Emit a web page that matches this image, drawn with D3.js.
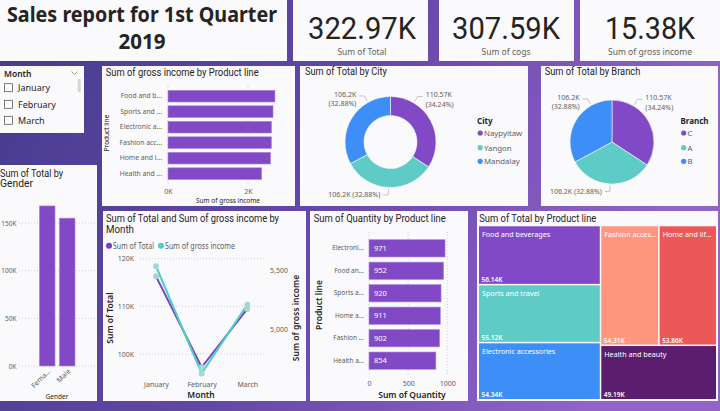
<!DOCTYPE html>
<html><head><meta charset="utf-8">
<script src="https://cdn.jsdelivr.net/npm/d3@7"></script>
<style>html,body{margin:0;padding:0;overflow:hidden;background:#5a479f}</style>
</head><body><svg id="c" width="720" height="411"></svg>
<script>
// ---------- DATA ----------
const kpiLabels = ["Sum of Total", "Sum of cogs", "Sum of gross income"];
const kpiValues = [322966.75, 307587.38, 15379.37];
const months = ["January", "February", "March"];
const productLines = ["Food and beverages", "Sports and travel", "Electronic accessories", "Fashion accessories", "Home and lifestyle", "Health and beauty"];
const grossIncome = [2673.56, 2624.90, 2587.50, 2585.99, 2564.85, 2342.56];
const grossTickLabels = ["Food and b...", "Sports and ...", "Electronic a...", "Fashion acc...", "Home and l...", "Health and ..."];
const grossTicks = [0, 2000];
const cities = ["Naypyitaw", "Yangon", "Mandalay"];
const cityTotals = [110568.71, 106200.37, 106197.67];
const branches = ["C", "A", "B"];
const branchTotals = [110568.71, 106200.37, 106197.67];
const genders = ["Female", "Male"];
const genderTotals = [167882.93, 155083.82];
const genderTickLabels = ["Fema...", "Male"];
const genderTicks = [0, 50000, 100000, 150000];
const monthTotals = [116291.87, 97219.37, 109455.51];
const monthGross = [5537.71, 4629.49, 5212.17];
const monthTotalTicks = [100000, 110000, 120000];
const monthGrossTicks = [5000, 5500];
const qtyLines = ["Electronic accessories", "Food and beverages", "Sports and travel", "Home and lifestyle", "Fashion accessories", "Health and beauty"];
const qtyValues = [971, 952, 920, 911, 902, 854];
const qtyTickLabels = ["Electroni...", "Food an...", "Sports a...", "Home a...", "Fashion ...", "Health a..."];
const qtyTicks = [0, 500, 1000];
const treeLines = ["Food and beverages", "Sports and travel", "Electronic accessories", "Fashion accessories", "Home and lifestyle", "Health and beauty"];
const treeTotals = [56144.84, 55122.83, 54337.53, 54305.90, 53861.91, 49193.74];
const treeLabels = ["Food and beverages", "Sports and travel", "Electronic accessories", "Fashion acces...", "Home and lif...", "Health and beauty"];

// ---------- STYLE ----------
const PAL = ["#8249C6", "#5ECBC6", "#3E8EF7", "#FF9680", "#EC5757", "#5B1D6D"];
const F = "'Segoe UI','Noto Sans',sans-serif";
const DIN = "Roboto,'Noto Sans',sans-serif";
const GREY = "#605E5C", DARK = "#252423", PANEL = "#FAF9FC", GRID = "#C8C6C4";

const svg = d3.select("#c");
const defs = svg.append("defs");
const lg = defs.append("linearGradient").attr("id", "bg").attr("x1", "0").attr("y1", "0").attr("x2", "1").attr("y2", "0.25");
lg.append("stop").attr("offset", "0").attr("stop-color", "#453c8d");
lg.append("stop").attr("offset", "0.5").attr("stop-color", "#6347a6");
lg.append("stop").attr("offset", "1").attr("stop-color", "#9263c9");
svg.append("rect").attr("width", 720).attr("height", 411).attr("fill", "url(#bg)");

function T(g, x, y, s, o = {}) {
  const t = g.append("text").attr("x", x).attr("y", y).text(s)
    .attr("font-family", o.f || F).attr("font-size", o.s || 8)
    .attr("font-weight", o.w || 400).attr("fill", o.c || GREY)
    .attr("text-anchor", o.a || "start");
  if (o.r) t.attr("transform", `rotate(${o.r},${x},${y})`);
  if (o.fit) t.attr("textLength", o.fit).attr("lengthAdjust", "spacingAndGlyphs");
  return t;
}
function panel(x, y, w, h) {
  svg.append("rect").attr("x", x).attr("y", y).attr("width", w).attr("height", h).attr("fill", PANEL);
}
function styleAxis(g, size, color) {
  g.select(".domain").remove();
  g.selectAll(".tick line").remove();
  g.attr("font-family", F).attr("font-size", size);
  g.selectAll("text").attr("fill", color || GREY);
}
function dotted(x1, y1, x2, y2) {
  svg.append("line").attr("x1", x1).attr("y1", y1).attr("x2", x2).attr("y2", y2)
    .attr("stroke", GRID).attr("stroke-width", 0.8).attr("stroke-dasharray", "1,2");
}
const fmtK = v => d3.format(".5~s")(v).replace("k", "K");
const fmtP = d3.format(".2%");

// ---------- PANELS ----------
panel(0, 0, 287, 61);
panel(293, 0, 135, 61);
panel(439, 0, 135, 61);
panel(580, 0, 140, 61);
panel(0, 66, 84, 67);
panel(102, 66, 193, 140);
panel(300, 66, 228, 140);
panel(541, 66, 177, 140);
panel(0, 165, 97, 236);
panel(103, 211, 203, 190);
panel(310, 211, 158, 190);
panel(477, 211, 241, 190);

// ---------- TITLE ----------
T(svg, 142, 21.5, "Sales report for 1st Quarter", { s: 21, w: 700, c: "#252423", a: "middle", fit: 270 });
T(svg, 142, 49, "2019", { s: 21, w: 700, c: "#252423", a: "middle", fit: 47 });

// ---------- KPIs ----------
const kpiCx = [362, 506, 650];
const kpiW = [108, 108, 90];
const kpiSubW = [49, 49, 84];
kpiValues.forEach((v, i) => {
  T(svg, kpiCx[i], 39, d3.format(".2f")(v / 1000) + "K", { f: DIN, s: 31, c: "#252423", a: "middle", fit: kpiW[i] });
  T(svg, kpiCx[i], 55, kpiLabels[i], { s: 8.5, c: GREY, a: "middle", fit: kpiSubW[i] });
});

// ---------- SLICER ----------
T(svg, 4, 77, "Month", { s: 8.5, w: 600, c: DARK });
svg.append("path").attr("d", "M71.5,71.5 L74.5,74.5 L77.5,71.5").attr("fill", "none").attr("stroke", "#8a8886").attr("stroke-width", 0.8);
svg.append("rect").attr("x", 77.7).attr("y", 79).attr("width", 3).attr("height", 13).attr("fill", "#d8d6d4");
months.forEach((m, i) => {
  const cy = [87.7, 104.3, 120.3][i];
  svg.append("rect").attr("x", 4.5).attr("y", cy - 4).attr("width", 8).attr("height", 8).attr("fill", "none").attr("stroke", "#605E5C").attr("stroke-width", 0.8);
  T(svg, 18, cy + 3.3, m, { s: 9, c: DARK });
});

// ---------- GROSS INCOME BY PRODUCT LINE ----------
T(svg, 105.7, 75.5, "Sum of gross income by Product line", { f: DIN, s: 10, c: DARK, fit: 153 });
{
  const y = d3.scaleBand().domain(productLines).range([86.5, 183.3]).padding(0.245);
  const x = d3.scaleLinear().domain([0, 2000]).range([168, 248]);
  grossTicks.forEach(t => dotted(x(t), 84, x(t), 185));
  svg.append("g").selectAll("rect").data(productLines).join("rect")
    .attr("x", x(0)).attr("y", d => y(d)).attr("height", y.bandwidth())
    .attr("width", (d, i) => x(grossIncome[i]) - x(0)).attr("fill", PAL[0])
    .attr("stroke", "#a98ade").attr("stroke-width", 0.6);
  const ya = svg.append("g").attr("transform", "translate(162,0)")
    .call(d3.axisLeft(y).tickSize(0).tickPadding(0).tickFormat((d, i) => grossTickLabels[i]));
  styleAxis(ya, 6.8);
  const xa = svg.append("g").attr("transform", "translate(0,192)")
    .call(d3.axisBottom(x).tickValues(grossTicks).tickSize(0).tickPadding(0).tickFormat(d => d / 1000 + "K"));
  styleAxis(xa, 7);
  xa.selectAll("text").attr("dy", "0.35em");
  T(svg, 228, 203, "Sum of gross income", { s: 6.5, c: DARK, a: "middle" });
  T(svg, 108.5, 133, "Product line", { s: 6.5, c: DARK, a: "middle", r: -90 });
}

// ---------- PIE HELPERS ----------
function pieChart(cx, cy, r, ri, values, names, legendTitle, lx, labelFrac) {
  const pie = d3.pie().sort(null).value(d => d);
  const arcs = pie(values);
  const arc = d3.arc().innerRadius(ri).outerRadius(r);
  const total = d3.sum(values);
  const g = svg.append("g").attr("transform", `translate(${cx},${cy})`);
  g.selectAll("path").data(arcs).join("path").attr("d", arc)
    .attr("fill", (d, i) => PAL[i]).attr("stroke", PANEL).attr("stroke-width", 0.6);
  const pol = (a, rr) => [Math.sin(a) * rr, -Math.cos(a) * rr];
  arcs.forEach((d, i) => {
    const a = d.startAngle + (d.endAngle - d.startAngle) * labelFrac[i];
    const p1 = pol(a, r + 1.5), p2 = pol(a, r + 7.5);
    const right = Math.sin(a) > 0.2;
    const bottom = Math.abs(Math.sin(a)) <= 0.2;
    const dir = right ? 1 : -1;
    const p3 = [p2[0] + dir * 5, p2[1]];
    g.append("polyline").attr("points", [p1, p2, p3].map(p => p.join(",")).join(" "))
      .attr("fill", "none").attr("stroke", "#b3b0ad").attr("stroke-width", 0.7);
    const tx = p3[0] + dir * 3;
    const anchor = right ? "start" : "end";
    const lbl = fmtK(d.data), pct = "(" + fmtP(d.data / total) + ")";
    if (bottom) {
      T(g, tx, p2[1] + 2.5, lbl + " " + pct, { s: 7, a: anchor });
    } else {
      T(g, tx, p2[1] + 0.9, lbl, { s: 7, a: anchor });
      T(g, tx, p2[1] + 10.2, pct, { s: 7, a: anchor });
    }
  });
  T(svg, lx, 124, legendTitle, { s: 8, w: 700, c: DARK });
  names.forEach((n, i) => {
    const yy = [133, 147.7, 161.3][i];
    svg.append("circle").attr("cx", lx + 3.2).attr("cy", yy).attr("r", 2.6).attr("fill", PAL[i]);
    T(svg, lx + 7, yy + 3, n, { s: 7.8 });
  });
}

// ---------- CITY DONUT ----------
T(svg, 305, 75, "Sum of Total by City", { f: DIN, s: 10, c: DARK, fit: 82 });
pieChart(390.5, 142, 45.5, 26.5, cityTotals, cities, "City", 477, [0.25, 0.5, 0.75]);

// ---------- BRANCH PIE ----------
T(svg, 544.7, 75, "Sum of Total by Branch", { f: DIN, s: 10, c: DARK, fit: 95.6 });
pieChart(612, 142, 42, 0, branchTotals, branches, "Branch", 680.5, [0.25, 0.5, 0.75]);

// ---------- GENDER ----------
T(svg, 0, 176.5, "Sum of Total by", { f: DIN, s: 10, c: DARK, fit: 63 });
T(svg, 0, 187, "Gender", { f: DIN, s: 10, c: DARK, fit: 33 });
{
  const y = d3.scaleLinear().domain([0, 150000]).range([366, 223]);
  const x = d3.scaleBand().domain(genders).range([35, 79.4]).padding(0.22);
  genderTicks.forEach(t => dotted(19, y(t), 96, y(t)));
  svg.append("g").selectAll("rect").data(genders).join("rect")
    .attr("x", d => x(d)).attr("width", x.bandwidth())
    .attr("y", (d, i) => y(genderTotals[i])).attr("height", (d, i) => y(0) - y(genderTotals[i]))
    .attr("fill", PAL[0]).attr("stroke", "#a98ade").attr("stroke-width", 0.6);
  const ya = svg.append("g").attr("transform", "translate(16.5,0)")
    .call(d3.axisLeft(y).tickValues(genderTicks).tickSize(0).tickPadding(0).tickFormat(d => d / 1000 + "K"));
  styleAxis(ya, 6.5);
  const xa = svg.append("g").attr("transform", "translate(2,370)")
    .call(d3.axisBottom(x).tickSize(0).tickPadding(0).tickFormat((d, i) => genderTickLabels[i]));
  styleAxis(xa, 7);
  xa.selectAll("text").attr("text-anchor", "end").attr("dy", "0.35em").attr("transform", "rotate(-45)");
  T(svg, 57, 399, "Gender", { s: 6.5, c: DARK, a: "middle" });
}

// ---------- LINE CHART ----------
T(svg, 106, 222, "Sum of Total and Sum of gross income by", { f: DIN, s: 10, c: DARK, fit: 173 });
T(svg, 106, 232.5, "Month", { f: DIN, s: 10, c: DARK, fit: 28 });
{
  svg.append("circle").attr("cx", 109).attr("cy", 245.7).attr("r", 3).attr("fill", "#7B3FC2");
  T(svg, 113, 248.5, "Sum of Total", { s: 8, fit: 41 });
  svg.append("circle").attr("cx", 161).attr("cy", 245.7).attr("r", 3).attr("fill", "#4ECDC4");
  T(svg, 165, 248.5, "Sum of gross income", { s: 8, fit: 70 });

  const x = d3.scalePoint().domain(months).range([156, 247.3]);
  const yL = d3.scaleLinear().domain([100000, 120000]).range([354, 258.7]);
  const yR = d3.scaleLinear().domain([5000, 5500]).range([329.7, 270.7]);
  monthTotalTicks.forEach(t => dotted(140, yL(t), 265, yL(t)));
  const ya = svg.append("g").attr("transform", "translate(134,0)")
    .call(d3.axisLeft(yL).tickValues(monthTotalTicks).tickSize(0).tickPadding(0).tickFormat(d => d / 1000 + "K"));
  styleAxis(ya, 7);
  const yb = svg.append("g").attr("transform", "translate(270,0)")
    .call(d3.axisRight(yR).tickValues(monthGrossTicks).tickSize(0).tickPadding(0).tickFormat(d3.format(",")));
  styleAxis(yb, 7);
  const xa = svg.append("g").attr("transform", "translate(0,384.7)")
    .call(d3.axisBottom(x).tickSize(0).tickPadding(0));
  styleAxis(xa, 7);
  xa.selectAll("text").attr("dy", "0.35em");

  const lineT = d3.line().x((d, i) => x(months[i])).y(d => yL(d));
  const lineG = d3.line().x((d, i) => x(months[i])).y(d => yR(d));
  svg.append("path").datum(monthTotals).attr("d", lineT).attr("fill", "none").attr("stroke", "#7B3FC2").attr("stroke-width", 2);
  svg.append("path").datum(monthGross).attr("d", lineG).attr("fill", "none").attr("stroke", "#4ECDC4").attr("stroke-width", 2);
  svg.append("g").selectAll("circle").data(monthTotals).join("circle")
    .attr("cx", (d, i) => x(months[i])).attr("cy", d => yL(d)).attr("r", 3).attr("fill", "#a6d8d0");
  svg.append("g").selectAll("circle").data(monthGross).join("circle")
    .attr("cx", (d, i) => x(months[i])).attr("cy", d => yR(d)).attr("r", 3).attr("fill", "#9edbd4");

  T(svg, 201, 398, "Month", { s: 8.5, w: 600, c: DARK, a: "middle" });
  T(svg, 113, 318, "Sum of Total", { s: 8.5, w: 600, c: DARK, a: "middle", r: -90 });
  T(svg, 299, 318, "Sum of gross income", { s: 8.5, w: 600, c: DARK, a: "middle", r: -90 });
}

// ---------- QUANTITY BY PRODUCT LINE ----------
T(svg, 313.7, 222.3, "Sum of Quantity by Product line", { f: DIN, s: 10, c: DARK, fit: 132 });
{
  const y = d3.scaleBand().domain(qtyLines).range([234.5, 374.5]).padding(0.23);
  const x = d3.scaleLinear().domain([0, 1000]).range([369, 447.3]);
  qtyTicks.forEach(t => dotted(x(t), 232, x(t), 375));
  svg.append("g").selectAll("rect").data(qtyLines).join("rect")
    .attr("x", x(0)).attr("y", d => y(d)).attr("height", y.bandwidth())
    .attr("width", (d, i) => x(qtyValues[i]) - x(0)).attr("fill", PAL[0])
    .attr("stroke", "#a98ade").attr("stroke-width", 0.6);
  svg.append("g").selectAll("text").data(qtyLines).join("text")
    .attr("x", x(0) + 5).attr("y", d => y(d) + y.bandwidth() / 2 + 2.6)
    .attr("font-family", F).attr("font-size", 7.5).attr("fill", "#ffffff")
    .text((d, i) => qtyValues[i]);
  const ya = svg.append("g").attr("transform", "translate(364,0)")
    .call(d3.axisLeft(y).tickSize(0).tickPadding(0).tickFormat((d, i) => qtyTickLabels[i]));
  styleAxis(ya, 6.5);
  const xa = svg.append("g").attr("transform", "translate(0,384)")
    .call(d3.axisBottom(x).tickValues(qtyTicks).tickSize(0).tickPadding(0).tickFormat(d3.format("d")));
  styleAxis(xa, 7);
  xa.selectAll("text").attr("dy", "0.35em");
  T(svg, 412, 398, "Sum of Quantity", { s: 8.5, w: 600, c: DARK, a: "middle" });
  T(svg, 322, 305, "Product line", { s: 8.5, w: 600, c: DARK, a: "middle", r: -90 });
}

// ---------- TREEMAP ----------
T(svg, 479.3, 222, "Sum of Total by Product line", { f: DIN, s: 10, c: DARK, fit: 117 });
{
  const root = d3.hierarchy({ children: treeLines.map((n, i) => ({ name: n, value: treeTotals[i], label: treeLabels[i], idx: i })) })
    .sum(d => d.value || 0).sort((a, b) => b.value - a.value);
  d3.treemap().size([237, 172.7]).paddingInner(1.5)(root);
  const g = svg.append("g").attr("transform", "translate(479,226.3)");
  const cell = g.selectAll("g").data(root.leaves()).join("g");
  cell.each(function (d, i) {
    defs.append("clipPath").attr("id", "tc" + i).append("rect")
      .attr("x", d.x0).attr("y", d.y0).attr("width", d.x1 - d.x0 - 2).attr("height", d.y1 - d.y0);
  });
  cell.append("rect").attr("x", d => d.x0).attr("y", d => d.y0)
    .attr("width", d => d.x1 - d.x0).attr("height", d => d.y1 - d.y0)
    .attr("fill", d => PAL[d.data.idx]);
  cell.append("text").attr("x", d => d.x0 + 3).attr("y", d => d.y0 + 11)
    .attr("clip-path", (d, i) => `url(#tc${i})`)
    .attr("font-family", F).attr("font-size", 7.2).attr("fill", "#ffffff")
    .text(d => d.data.label);
  cell.append("text").attr("x", d => d.x0 + 2.5).attr("y", d => d.y1 - 2)
    .attr("font-family", F).attr("font-size", 6.5).attr("font-weight", 600).attr("fill", "#ffffff")
    .text(d => d3.format(".2f")(d.value / 1000) + "K");
}
</script>
</body></html>
